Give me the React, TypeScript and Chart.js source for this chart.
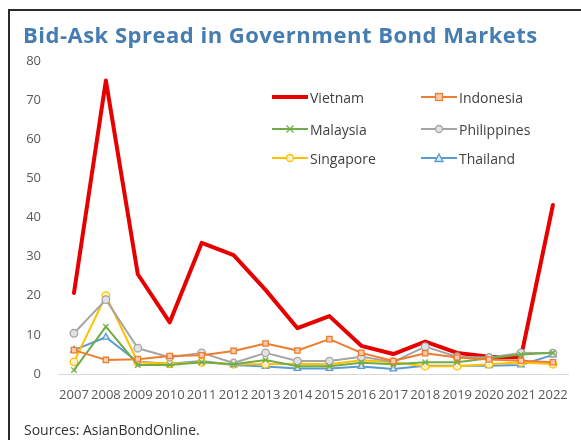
import React, { useEffect, useRef } from "react";
import { Chart, registerables } from "chart.js";

Chart.register(...registerables);

const years = ["2007","2008","2009","2010","2011","2012","2013","2014","2015","2016","2017","2018","2019","2020","2021","2022"];
const yTicks = [0, 10, 20, 30, 40, 50, 60, 70, 80];

const vietnam = [20.7, 75, 25.5, 13.2, 33.5, 30.4, 21.5, 11.7, 14.8, 7.2, 5.1, 8.3, 5.4, 4.4, 4.3, 43.2];
const indonesia = [6.1, 3.6, 3.8, 4.6, 4.8, 5.9, 7.8, 6.0, 8.9, 5.4, 3.3, 5.3, 4.2, 3.7, 3.4, 3.0];
const malaysia = [1.0, 12.1, 2.3, 2.3, 3.0, 2.5, 3.6, 2.0, 2.0, 2.9, 2.5, 3.0, 3.0, 4.0, 5.0, 5.4];
const philippines = [10.4, 19.0, 6.6, 4.3, 5.4, 2.8, 5.4, 3.3, 3.3, 4.4, 3.1, 7.0, 4.4, 4.2, 5.4, 5.3];
const singapore = [3.1, 20.0, 3.0, 2.6, 3.0, 2.5, 2.5, 2.6, 2.5, 3.5, 3.0, 2.0, 2.0, 2.5, 3.0, 2.5];
const thailand = [6.1, 9.4, 3.1, 2.6, 3.3, 2.3, 1.9, 1.4, 1.4, 1.9, 1.3, 2.1, 2.1, 2.1, 2.3, 4.9];

const seriesNames = ["Vietnam", "Indonesia", "Malaysia", "Philippines", "Singapore", "Thailand"];
const seriesColors = ["#e60000", "#ed7d31", "#70ad47", "#a5a5a5", "#ffc000", "#5b9bd5"];
const seriesFills = ["#e60000", "#f8cbad", "#70ad47", "#e2e2e2", "#fff2cc", "#ddebf7"];
const seriesMarkers = ["none", "rect", "crossRot", "circle", "circle", "triangle"];

const FONT = "'Open Sans', 'DejaVu Sans', sans-serif";

function LegendItem({ idx, left, top }: { idx: number; left: number; top: number }) {
  const c = seriesColors[idx];
  const f = seriesFills[idx];
  const m = seriesMarkers[idx];
  let marker: React.ReactNode = null;
  if (m === "rect") marker = <rect x={14.5} y={-3.5} width={7} height={7} fill={f} stroke={c} strokeWidth={1.3} />;
  if (m === "circle") marker = <circle cx={18} cy={0} r={3.5} fill={f} stroke={c} strokeWidth={1.3} />;
  if (m === "triangle") marker = <polygon points="18,-4 22,3.5 14,3.5" fill={f} stroke={c} strokeWidth={1.3} />;
  if (m === "crossRot") marker = (
    <g stroke={c} strokeWidth={1.2}>
      <line x1={14.5} y1={-3.5} x2={21.5} y2={3.5} />
      <line x1={14.5} y1={3.5} x2={21.5} y2={-3.5} />
    </g>
  );
  return (
    <div style={{ position: "absolute", left, top: top - 10, height: 20, display: "flex", alignItems: "center" }}>
      <svg width={37} height={20} viewBox="0 -10 37 20" style={{ display: "block" }}>
        <line x1={0} y1={0} x2={36} y2={0} stroke={c} strokeWidth={idx === 0 ? 4 : 2} />
        {marker}
      </svg>
      <span style={{ marginLeft: 1, font: `14px ${FONT}`, color: "#404040", whiteSpace: "nowrap" }}>{seriesNames[idx]}</span>
    </div>
  );
}

export default function App() {
  const ref = useRef<HTMLCanvasElement | null>(null);

  useEffect(() => {
    document.body.style.margin = "0";
    const ctx = ref.current!.getContext("2d")!;
    const data = [vietnam, indonesia, malaysia, philippines, singapore, thailand];
    const chart = new Chart(ctx, {
      type: "line",
      data: {
        labels: years,
        datasets: data.map((d, i) => ({
          label: seriesNames[i],
          data: d,
          borderColor: seriesColors[i],
          backgroundColor: seriesFills[i],
          borderWidth: i === 0 ? 4 : 2,
          borderJoinStyle: "round" as const,
          borderCapStyle: "round" as const,
          pointStyle: seriesMarkers[i] === "none" ? false : (seriesMarkers[i] as any),
          pointRadius: i === 0 ? 0 : 3.8,
          pointBorderWidth: 1.3,
          pointBorderColor: seriesColors[i],
          pointBackgroundColor: seriesFills[i],
          tension: 0,
          order: i === 0 ? 1 : 0,
        })),
      },
      options: {
        animation: false,
        responsive: false,
        layout: { padding: { left: 0, top: 61, right: 7, bottom: 26 } },
        plugins: { legend: { display: false }, tooltip: { enabled: false }, title: { display: false } },
        scales: {
          x: {
            type: "category",
            offset: true,
            grid: { display: false, drawTicks: false },
            border: { display: true, color: "#d9d9d9", width: 1 },
            ticks: {
              autoSkip: false,
              maxRotation: 0,
              minRotation: 0,
              padding: 13,
              color: "#595959",
              font: { family: FONT, size: 13 },
            },
            afterFit: (s: any) => { s.height = 40; },
          },
          y: {
            min: 0,
            max: 80,
            afterBuildTicks: (s: any) => { s.ticks = yTicks.map((v) => ({ value: v })); },
            grid: { display: false, drawTicks: false },
            border: { display: false },
            ticks: {
              padding: 17,
              color: "#595959",
              font: { family: FONT, size: 13 },
            },
            afterFit: (s: any) => { s.width = 58; },
          },
        },
      },
    });
    return () => chart.destroy();
  }, []);

  return (
    <div style={{ position: "relative", width: 581, height: 440, background: "#fff", overflow: "hidden" }}>
      <canvas ref={ref} width={581} height={440} style={{ position: "absolute", left: 0, top: 0 }} />
      <div style={{ position: "absolute", left: 8, top: 9, width: 600, height: 500, borderLeft: "2px solid #2b2b2b", borderTop: "2px solid #2b2b2b" }} />
      <div style={{ position: "absolute", left: 23, top: 20, font: `bold 22px ${FONT}`, letterSpacing: "0.5px", color: "#457db1", whiteSpace: "nowrap", lineHeight: "28px" }}>
        Bid-Ask Spread in Government Bond Markets
      </div>
      <LegendItem idx={0} left={272} top={97} />
      <LegendItem idx={1} left={421} top={97} />
      <LegendItem idx={2} left={272} top={129} />
      <LegendItem idx={3} left={421} top={129} />
      <LegendItem idx={4} left={272} top={158} />
      <LegendItem idx={5} left={421} top={158} />
      <div style={{ position: "absolute", left: 24, top: 420, font: `14px ${FONT}`, color: "#333", whiteSpace: "nowrap", lineHeight: "20px" }}>
        Sources: AsianBondOnline.
      </div>
    </div>
  );
}
